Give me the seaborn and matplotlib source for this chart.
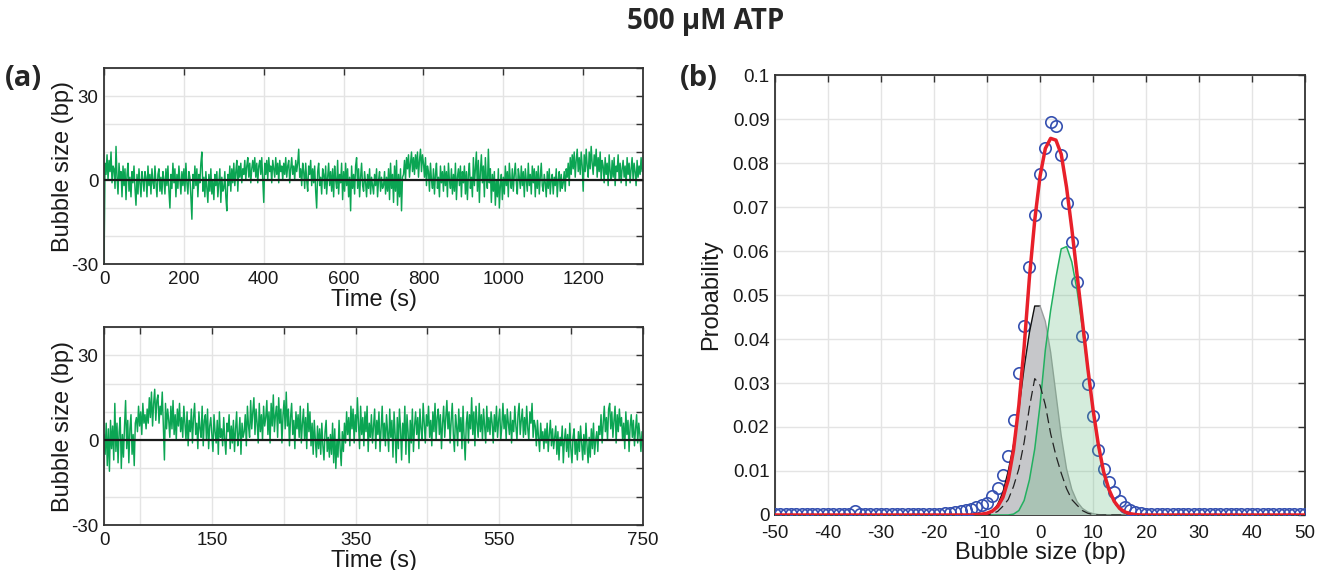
import numpy as np
import matplotlib
matplotlib.use("Agg")
import matplotlib.pyplot as plt
import seaborn as sns

# ---------------- data ----------------
# (a) top trace: bubble size (bp), one value every 2.5 s
trace1_step = 2.5
trace1 = [
    -30, 6, 2, 9, 0, 7, 3, 10, -1, 5,
    4, -3, 12, 1, -5, 6, 0, 3, -6, 5,
    -2, 4, -7, 2, 6, -4, 1, -6, 3, -1,
    5, -3, -9, 2, -5, 4, -1, -6, 3, 0,
    -4, 3, 1, -6, 5, -2, 2, -5, 4, -1,
    -3, 5, -1, -6, 2, 4, -4, 1, -5, 3,
    0, -5, 4, -2, 5, -4, -10, 2, -3, 6,
    -1, 4, -6, 2, -3, 5, 0, -5, 3, -2,
    4, -4, 6, -1, -5, 3, 1, -6, -14, 2,
    -3, 5, -2, 4, -6, 2, -1, 6, 10, -4,
    1, -6, 3, -3, -8, 2, -4, 4, -5, 0,
    -7, 2, -2, 3, -6, -1, 4, -8, 1, -4,
    -3, 3, -6, -11, 2, -2, 5, -4, 4, -1,
    6, -2, 3, 7, -4, 5, 1, 6, -1, 4,
    2, 7, 0, 5, 8, 1, 6, -1, 4, 7,
    3, 8, 1, 6, -1, 5, 7, 2, 8, 0,
    -8, 6, 2, 7, 0, 8, 3, 5, -1, 7,
    4, 1, 8, 2, 6, -1, 7, 3, 5, 0,
    6, 2, 8, 1, 5, 7, -1, 4, 8, 2,
    5, 0, 7, 3, 6, 11, 1, 4, -2, 6,
    3, -3, 6, 0, -4, 5, 2, 7, -2, 4,
    -1, 5, -4, -10, 3, 6, -2, 1, -5, 4,
    2, -3, 5, -5, 1, 6, -2, 3, -4, 4,
    -6, 5, 0, -3, 7, -5, 2, -1, 6, -7,
    3, -4, 6, -2, 4, -6, 1, -11, 5, -3,
    2, -5, 5, 8, -3, 4, -6, 1, 6, -2,
    -4, 3, -1, -6, 2, -3, 4, -5, 1, -2,
    -5, 2, -2, 4, -6, 0, 3, -4, 1, -3,
    -2, 3, -5, 1, -4, 4, -7, 6, -3, 2,
    -8, 5, -4, 7, -9, 2, -6, 4, -11, 1,
    2, 7, 0, 8, 4, 9, 1, 6, 10, 3,
    8, 2, 9, 4, 10, 1, 7, 11, 3, 9,
    6, 1, 8, -2, 5, 3, -4, 6, 0, -3,
    4, -5, 2, 6, -3, 1, -6, 5, -1, 3,
    -4, 5, -2, 3, -6, 6, 0, -3, 4, -5,
    2, -4, 6, -7, 1, 4, -2, 5, -6, 3,
    -1, 5, -5, 3, -7, 2, 6, -3, 1, -6,
    8, -2, 4, 10, -4, 7, -8, 3, 9, -1,
    5, -6, 8, 0, -3, 11, -1, 4, -8, 2,
    -4, 3, -9, 0, -6, 4, -10, -2, 2, -7,
    1, -5, 5, -2, 3, -6, 6, 0, -3, 4,
    -4, 2, 6, -1, -5, 4, 1, -3, 5, -2,
    3, -6, 4, 0, -4, 6, -2, 2, -5, 5,
    -1, 4, -6, 3, -3, 5, -5, 1, 6, -2,
    -4, 2, -1, -6, 3, -3, 4, -5, 0, 2,
    -5, 1, -2, 4, -6, 0, 3, -4, 2, -3,
    -1, 3, -4, 4, 1, 6, -2, 8, 2, 9,
    4, 10, 1, 7, 11, 3, 8, 2, 10, 5,
    -4, 9, 3, 11, 5, 1, 10, 4, 12, 6,
    2, 9, 5, 11, 1, 8, 3, 10, 0, 7,
    5, -1, 8, 2, 6, -2, 9, 3, 0, 7,
    1, 8, -2, 5, 3, 9, 0, 6, -1, 4,
    7, 1, 5, -2, 8, 2, 6, -1, 4, 8,
    0, 6, 3, -2, 7, 1, 5, 2, 8, 3,
]

# (a) bottom trace: bubble size (bp), one value every 1.5 s
trace2_step = 1.5
trace2 = [
    2, -5, 6, -9, 4, -11, 7, -3, 5, -7,
    13, -4, 6, -8, 3, 8, -10, 2, -6, 5,
    14, -3, 7, -8, 4, 9, -5, 2, -9, 6,
    8, 3, 12, 5, 10, 2, 13, 6, 9, 4,
    11, 6, 15, 8, 17, 5, 13, 18, 7, 14,
    16, 6, 12, 9, 17, 5, -7, 13, 4, 11,
    7, 1, 12, 4, 14, 2, 9, 0, 11, 5,
    13, 3, 8, 1, 12, 6, 0, 10, -2, 7,
    3, 11, -1, 8, 13, 2, 6, -3, 10, 4,
    1, 12, -2, 7, 9, 0, 11, -3, 5, 8,
    2, -4, 9, 3, -1, 7, -5, 10, 1, 4,
    -2, 8, 0, -5, 6, 3, 9, -3, 5, -1,
    7, -4, 4, 10, -2, 2, 8, -5, 6, 1,
    3, 9, -2, 12, 5, 1, 14, 4, 10, 15,
    2, 11, 6, -1, 13, 3, 9, 0, 12, 5,
    8, 14, 2, 10, -1, 13, 5, 16, 3, 9,
    12, 1, 15, 6, 11, -1, 9, 14, 4, 17,
    5, 11, -2, 8, 13, 2, 7, -3, 10, 4,
    9, 1, 12, -1, 6, 11, 0, 8, -3, 13,
    3, 10, -2, 6, -5, 7, 0, -6, 5, -3,
    4, -5, 6, -2, -7, 3, 7, -4, 1, -6,
    2, -5, 6, -8, 4, -10, 0, -6, 7, -3,
    -9, 3, -4, 6, -1, 10, 2, 8, -2, 12,
    4, 11, -1, 9, 3, 15, 6, -3, 12, 2,
    8, -2, 10, 3, 12, -4, 6, 1, 9, -1,
    5, 11, -3, 7, 2, 10, -4, 4, 12, 0,
    6, -2, 9, 3, -4, 11, 1, 7, -6, 10,
    2, -8, 8, -3, 11, 4, -7, 6, 0, 12,
    -5, 9, 3, -8, 7, -1, 11, -4, 5, 10,
    2, 8, -3, 11, 4, 0, 13, 6, -1, 9,
    5, 12, 1, 7, -2, 10, 3, 13, 0, 8,
    11, 2, 9, -3, 6, 12, 1, 8, 14, 4,
    10, -1, 7, 13, 2, -4, 9, 5, -2, 11,
    3, 8, -3, 12, 1, -7, 6, 10, -1, 9,
    4, 15, 2, 10, -2, 12, 6, 1, 13, 3,
    9, 0, 11, 5, -1, 12, 3, 8, 2, 10,
    6, -1, 9, 3, 12, 1, 7, 11, 0, 5,
    13, 4, 9, 0, 11, 6, 2, 10, -1, 7,
    3, 12, 5, 0, 9, 13, 2, 7, 11, 1,
    8, 2, 12, 4, 0, 10, 6, 13, 1, 7,
    5, -2, 7, 1, -4, 6, 0, 3, -3, 4,
    -1, 6, -4, 2, 7, -2, 4, -3, 1, 5,
    -5, 3, -7, 1, -2, 5, -8, 0, 4, -4,
    2, -6, 6, -3, -8, 1, 4, -5, 0, -7,
    3, -4, 5, -1, -7, 2, -5, 6, -2, -8,
    1, -6, 4, -3, 6, -5, 0, 3, -4, 5,
    2, 9, -1, 6, 12, 3, 8, 0, 11, 13,
    4, 10, 1, 7, 12, -1, 9, 3, 11, 5,
    8, 0, 6, -3, 10, 2, 7, -4, 5, 9,
    1, 7, -2, 4, 9, -1, 6, 2, -4, 3,
]

# (b) histogram: bubble size bins -50..50 bp
hist_bins = list(range(-50, 51))
hist_prob = ([0.0003] * 15 + [0.0010] + [0.0003] * 16 +
             [0.0004, 0.0005, 0.0006, 0.0008, 0.0011, 0.0014, 0.0018, 0.0022,
              0.0028, 0.0043, 0.0062, 0.0091, 0.0133, 0.0215, 0.0323, 0.0430,
              0.0564, 0.0682, 0.0776, 0.0833, 0.0894, 0.0884, 0.0819, 0.0709,
              0.0620, 0.0529, 0.0406, 0.0298, 0.0224, 0.0148, 0.0105, 0.0076,
              0.0053, 0.0031, 0.0019, 0.0011, 0.0006, 0.0004] +
             [0.0003] * 31)

# (b) total fit (red), same bins
fit_total = ([0.0] * 38 +
             [0.0001, 0.0002, 0.0004, 0.0009, 0.0019, 0.0040, 0.0080, 0.0148,
              0.0249, 0.0382, 0.0540, 0.0670, 0.0770, 0.0833, 0.0856, 0.0852,
              0.0820, 0.0745, 0.0650, 0.0545, 0.0440, 0.0335, 0.0240, 0.0160,
              0.0098, 0.0058, 0.0031, 0.0015, 0.0007, 0.0003, 0.0001] +
             [0.0] * 32)

# (b) components, bins -14..18 bp
comp_bins = list(range(-14, 19))
comp_gray = ([0.0] * 4 +
             [0.0002, 0.0007, 0.0024, 0.0052, 0.0100, 0.0160, 0.0240, 0.0335,
              0.0415, 0.0475, 0.0475, 0.0440, 0.0370, 0.0275, 0.0180, 0.0105,
              0.0058, 0.0030, 0.0015, 0.0007, 0.0003, 0.0001] +
             [0.0] * 7)
comp_green = ([0.0] * 9 +
              [0.0002, 0.0010, 0.0033, 0.0080, 0.0150, 0.0250, 0.0375, 0.0465,
               0.0540, 0.0605, 0.0610, 0.0575, 0.0510, 0.0425, 0.0330, 0.0235,
               0.0155, 0.0095, 0.0056, 0.0030, 0.0015, 0.0007, 0.0003, 0.0001])
comp_dashed = ([0.0] * 5 +
               [0.0003, 0.0008, 0.0020, 0.0035, 0.0065, 0.0105, 0.0165, 0.0245,
                0.0310, 0.0295, 0.0250, 0.0185, 0.0135, 0.0095, 0.0060, 0.0035,
                0.0022, 0.0010, 0.0004, 0.0001] +
               [0.0] * 8)

top_xticks = [0, 200, 400, 600, 800, 1000, 1200]
bot_xticks = [0, 50, 150, 250, 350, 450, 550, 650, 750]
bot_xlabels = ["0", "", "150", "", "350", "", "550", "", "750"]
trace_yticks = [-30, -20, -10, 0, 10, 20, 30, 40]
trace_ylabels = ["-30", "", "", "0", "", "", "30", ""]
hist_xticks = list(range(-50, 51, 10))
hist_yticks = [0, 0.01, 0.02, 0.03, 0.04, 0.05, 0.06, 0.07, 0.08, 0.09, 0.1]
hist_ylabels = ["0", "0.01", "0.02", "0.03", "0.04", "0.05", "0.06",
                "0.07", "0.08", "0.09", "0.1"]

# ---------------- style ----------------
sns.set_theme(style="white")
plt.rcParams['font.family'] = ['Liberation Sans', 'DejaVu Sans']

TRACE_GREEN = "#0ba553"
GRID = "#e4e4e4"
FRAME = "#333333"
TXT = "#1a1a1a"

fig = plt.figure(figsize=(13.17, 5.70), dpi=100)
ax1 = fig.add_axes([0.0790, 0.5368, 0.4093, 0.3439])
ax2 = fig.add_axes([0.0790, 0.0789, 0.4093, 0.3474])
ax3 = fig.add_axes([0.5885, 0.0965, 0.4024, 0.7719])


def style_axes(ax, xpad=5):
    ax.set_axisbelow(True)
    ax.grid(True, color=GRID, linewidth=1.0)
    for s in ax.spines.values():
        s.set_color(FRAME)
        s.set_linewidth(1.3)
        s.set_visible(True)
    ax.tick_params(direction="in", top=True, right=True, length=5, width=1.0,
                   color=FRAME, labelsize=13.5, labelcolor=TXT)
    ax.tick_params(axis="x", pad=xpad)
    ax.tick_params(axis="y", pad=4)


def draw_trace(ax, values, step, xlim, xticks, xlabels):
    t = np.arange(len(values)) * step
    sns.lineplot(x=t, y=values, ax=ax, color=TRACE_GREEN, linewidth=1.05,
                 sort=False, estimator=None)
    ax.axhline(0, color=TXT, linewidth=1.6, zorder=5)
    ax.set_xlim(*xlim)
    ax.set_ylim(-30, 40)
    ax.set_xticks(xticks)
    ax.set_xticklabels(xlabels)
    ax.set_yticks(trace_yticks)
    ax.set_yticklabels(trace_ylabels)
    style_axes(ax, xpad=5)
    ax.set_xlabel("Time (s)", fontsize=17, labelpad=1, color=TXT)
    ax.set_ylabel("Bubble size (bp)", fontsize=17, labelpad=-2, color=TXT)


draw_trace(ax1, trace1, trace1_step, (0, 1350), top_xticks,
           [str(v) for v in top_xticks])
draw_trace(ax2, trace2, trace2_step, (0, 750), bot_xticks, bot_xlabels)

# ---------------- (b) ----------------
sns.lineplot(x=hist_bins, y=hist_prob, ax=ax3, marker="o", linestyle="",
             markersize=8.2, markerfacecolor="none", markeredgecolor="#3550b0",
             markeredgewidth=1.2, color="#3550b0", zorder=3,
             sort=False, estimator=None)
ax3.fill_between(comp_bins, comp_gray, 0, facecolor="#c6c7ca",
                 edgecolor="none", zorder=4)
gray_left = [i for i, b in enumerate(comp_bins) if b <= 0]
gray_right = [i for i, b in enumerate(comp_bins) if b >= 0]
sns.lineplot(x=[comp_bins[i] for i in gray_left],
             y=[comp_gray[i] for i in gray_left], ax=ax3, color="#111111",
             linewidth=1.0, zorder=4.5, sort=False, estimator=None)
sns.lineplot(x=[comp_bins[i] for i in gray_right],
             y=[comp_gray[i] for i in gray_right], ax=ax3, color="#9c9e9f",
             linewidth=1.0, zorder=4.5, sort=False, estimator=None)
ax3.fill_between(comp_bins, comp_green, 0, facecolor="#5cb87a", alpha=0.26,
                 edgecolor="none", zorder=5)
sns.lineplot(x=comp_bins, y=comp_green, ax=ax3, color="#22b060",
             linewidth=1.1, zorder=6, sort=False, estimator=None)
sns.lineplot(x=comp_bins, y=comp_dashed, ax=ax3, color="#222222",
             linewidth=0.9, dashes=(8, 4), zorder=7, sort=False, estimator=None)
sns.lineplot(x=hist_bins, y=fit_total, ax=ax3, color="#e8202a",
             linewidth=2.5, zorder=8, sort=False, estimator=None)

ax3.set_xlim(-50, 50)
ax3.set_ylim(0, 0.1)
ax3.set_xticks(hist_xticks)
ax3.set_xticklabels([str(v) for v in hist_xticks])
ax3.set_yticks(hist_yticks)
ax3.set_yticklabels(hist_ylabels)
style_axes(ax3, xpad=7)
ax3.set_xlabel("Bubble size (bp)", fontsize=17, labelpad=0, color=TXT)
ax3.set_ylabel("Probability", fontsize=17, labelpad=8, color=TXT)

# ---------------- titles ----------------
fig.text(0.536, 0.962, "500 µM ATP", ha="center", va="center",
         fontsize=20, fontweight="bold", family=["Open Sans", "DejaVu Sans"])
fig.text(0.004, 0.862, "(a)", ha="left", va="center",
         fontsize=21, fontweight="bold", family=["Open Sans", "DejaVu Sans"])
fig.text(0.516, 0.862, "(b)", ha="left", va="center",
         fontsize=21, fontweight="bold", family=["Open Sans", "DejaVu Sans"])

fig.savefig("out.png", dpi=100)
